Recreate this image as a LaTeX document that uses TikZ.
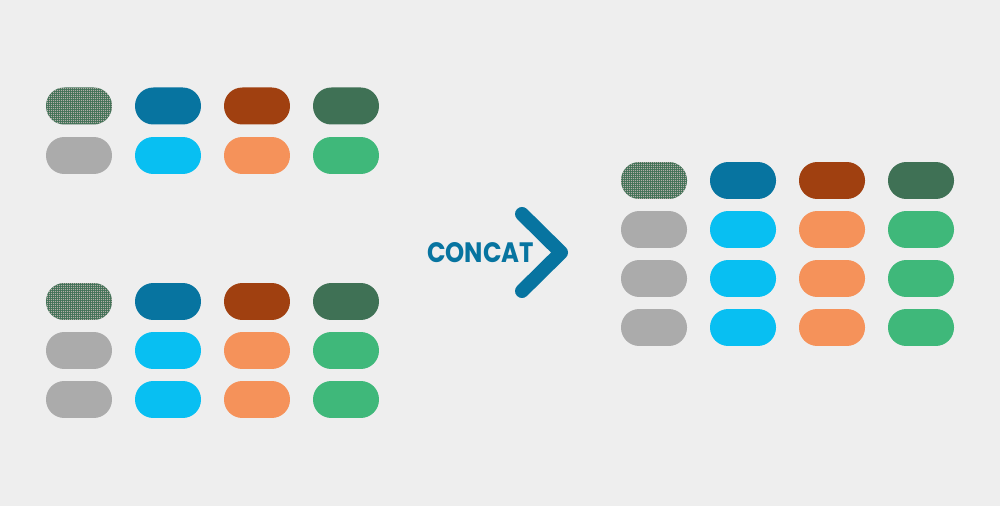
\documentclass[tikz,border=0pt]{standalone}
\usepackage{fontspec}
\newfontfamily\concatfont{Poppins}
\usetikzlibrary{patterns}
\definecolor{bg}{HTML}{EEEEEE}
\definecolor{lgray}{HTML}{ABABAB}
\definecolor{dblue}{HTML}{0774A0}
\definecolor{lblue}{HTML}{08BFF2}
\definecolor{brown}{HTML}{A04010}
\definecolor{orange}{HTML}{F5925A}
\definecolor{dgreen}{HTML}{3F7155}
\definecolor{green}{HTML}{3FB87A}
\definecolor{dotgray}{HTML}{B2AEA8}
\pgfdeclarepatternformonly{finedots}{\pgfpointorigin}{\pgfpoint{1.13pt}{1.13pt}}{\pgfpoint{1.13pt}{1.13pt}}{%
  \pgfpathrectangle{\pgfpointorigin}{\pgfpoint{0.68pt}{0.68pt}}\pgfusepath{fill}}
\begin{document}
\begin{tikzpicture}[x=0.02cm, y=-0.02cm,
    pill/.style={rectangle, rounded corners=0.365cm, minimum width=1.32cm, minimum height=0.74cm, inner sep=0pt},
    dotted pill/.style={pill, fill=dgreen, postaction={pattern=finedots, pattern color=dotgray}}]
        \useasboundingbox (0,0) rectangle (1000,506);
        \fill[bg] (0,0) rectangle (1000,506);

        % Upper left table
        \node[dotted pill] (up-h-1) at (79,106) {};
        \foreach \c/\x/\col in {2/168/dblue, 3/257/brown, 4/346/dgreen}
            \node[pill, fill=\col] (up-h-\c) at (\x,106) {};
        \foreach \c/\x/\col in {1/79/lgray, 2/168/lblue, 3/257/orange, 4/346/green}
            \node[pill, fill=\col] (up-r1-\c) at (\x,155.5) {};

        % Lower left table
        \node[dotted pill] (low-h-1) at (79,301.5) {};
        \foreach \c/\x/\col in {2/168/dblue, 3/257/brown, 4/346/dgreen}
            \node[pill, fill=\col] (low-h-\c) at (\x,301.5) {};
        \foreach \r/\y in {1/350.5, 2/399.5}
            \foreach \c/\x/\col in {1/79/lgray, 2/168/lblue, 3/257/orange, 4/346/green}
                \node[pill, fill=\col] (low-r\r-\c) at (\x,\y) {};

        % Concat sign
        \node[text=dblue, inner sep=0pt] (concat) at (480.5,253) {\resizebox{2.14cm}{0.4cm}{\concatfont\bfseries CONCAT}};
        \coordinate (chev-top) at (522,214);
        \coordinate (chev-tip) at (561,252.5);
        \coordinate (chev-bot) at (522,291);
        \draw[dblue, line width=0.28cm, line cap=round, line join=round] (chev-top) -- (chev-tip) -- (chev-bot);

        % Result table
        \node[dotted pill] (res-h-1) at (654,180.5) {};
        \foreach \c/\x/\col in {2/743/dblue, 3/832/brown, 4/921/dgreen}
            \node[pill, fill=\col] (res-h-\c) at (\x,180.5) {};
        \foreach \r/\y in {1/229.5, 2/278.5, 3/327.5}
            \foreach \c/\x/\col in {1/654/lgray, 2/743/lblue, 3/832/orange, 4/921/green}
                \node[pill, fill=\col] (res-r\r-\c) at (\x,\y) {};
    \end{tikzpicture}
\end{document}
